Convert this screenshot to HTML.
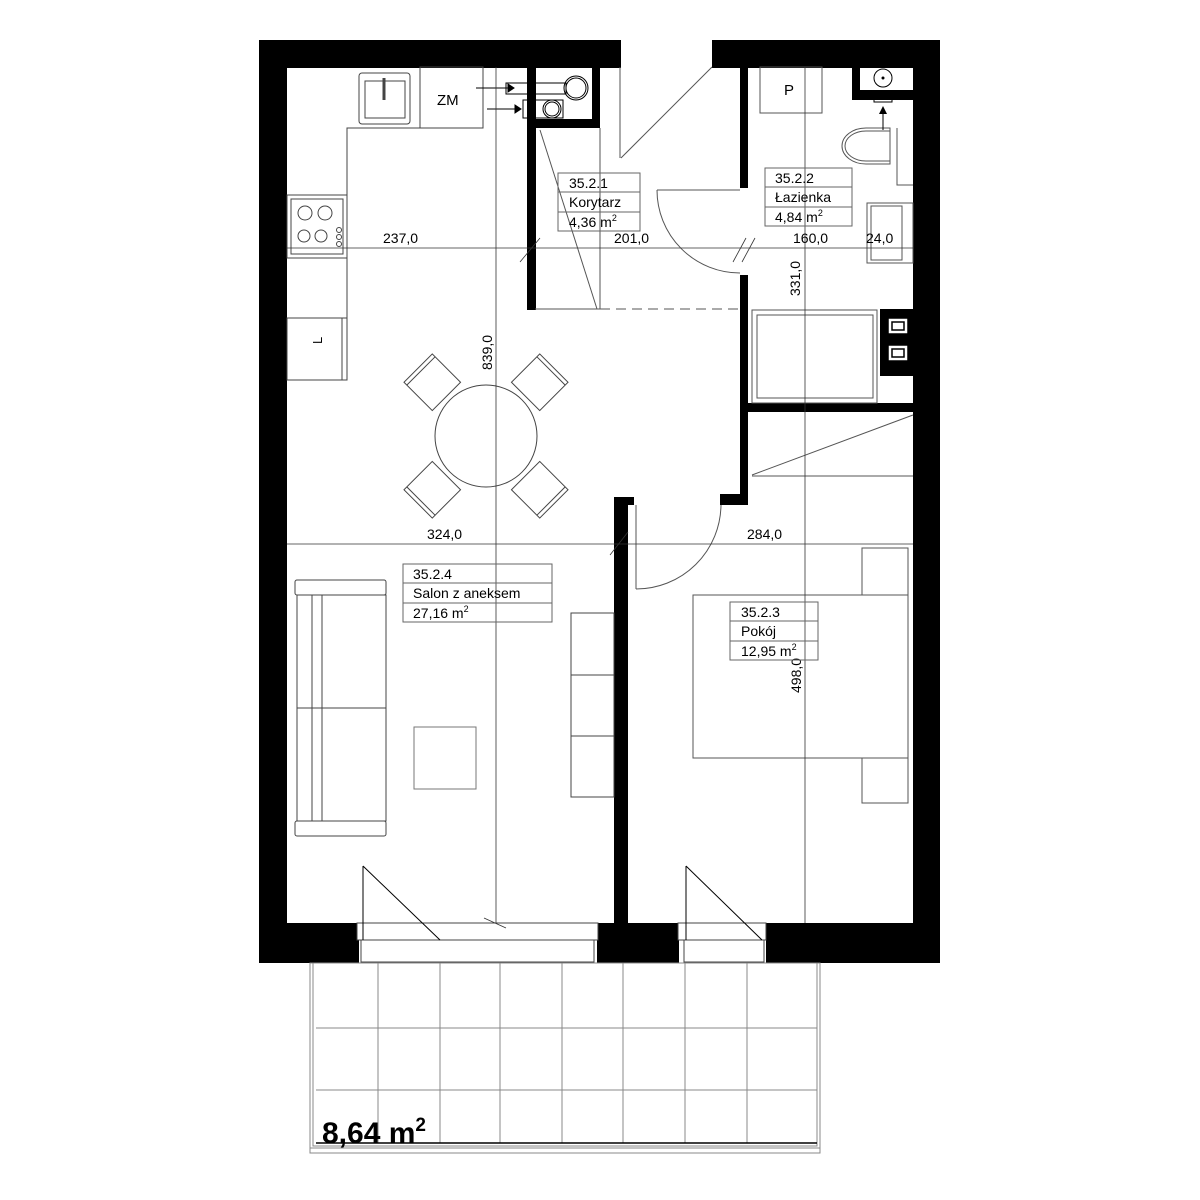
<!DOCTYPE html>
<html><head><meta charset="utf-8"><style>
html,body{margin:0;padding:0;background:#fff;}
svg{display:block;}
text{font-family:"Liberation Sans",Arial,sans-serif;fill:#000;}
</style></head><body>
<svg width="1200" height="1200" viewBox="0 0 1200 1200" xmlns="http://www.w3.org/2000/svg">
<rect width="1200" height="1200" fill="#fff"/>
<g fill="#000">
<rect x="259" y="40" width="362" height="28"/>
<rect x="712" y="40" width="228" height="28"/>
<rect x="259" y="40" width="28" height="923"/>
<rect x="913" y="40" width="27" height="923"/>
<rect x="259" y="923" width="100" height="40"/>
<rect x="597" y="923" width="82" height="40"/>
<rect x="766" y="923" width="174" height="40"/>
<rect x="527" y="67" width="9" height="243"/>
<rect x="592" y="67" width="8" height="61"/>
<rect x="535" y="119" width="65" height="9"/>
<rect x="740" y="67" width="8" height="121"/>
<rect x="740" y="275" width="8" height="230"/>
<rect x="720" y="494" width="28" height="11"/>
<rect x="748" y="403" width="165" height="9"/>
<rect x="852" y="67" width="8" height="33"/>
<rect x="852" y="90" width="61" height="10"/>
<rect x="614" y="497" width="14" height="426"/>
<rect x="614" y="497" width="20" height="8"/>
<rect x="880" y="309" width="33" height="67"/>
<rect x="440" y="937" width="12" height="6"/>
</g>
<g fill="#fff" stroke="#000" stroke-width="1.5">
<rect x="888" y="318" width="20" height="16"/><rect x="892" y="322" width="12" height="8" fill="none"/>
<rect x="888" y="345" width="20" height="16"/><rect x="892" y="349" width="12" height="8" fill="none"/>
</g>
<g fill="#fff" stroke="#444" stroke-width="1">
<rect x="357" y="923" width="241" height="17"/>
<rect x="361" y="940" width="233" height="22"/>
<rect x="678" y="923" width="88" height="17"/>
<rect x="684" y="940" width="80" height="22"/>
</g>
<g fill="none" stroke="#000" stroke-width="1">
<polyline points="363,866 363,940"/><line x1="363" y1="866" x2="440" y2="940"/>
<polyline points="686,866 686,940"/><line x1="686" y1="866" x2="762" y2="940"/>
</g>
<g fill="none" stroke="#888" stroke-width="1">
<rect x="310" y="963" width="510" height="190"/>
<rect x="313" y="963" width="504" height="183"/>
<line x1="310" y1="1148" x2="820" y2="1148"/>
<line x1="378" y1="963" x2="378" y2="1143"/><line x1="440" y1="963" x2="440" y2="1143"/>
<line x1="500" y1="963" x2="500" y2="1143"/><line x1="562" y1="963" x2="562" y2="1143"/>
<line x1="623" y1="963" x2="623" y2="1143"/><line x1="685" y1="963" x2="685" y2="1143"/>
<line x1="747" y1="963" x2="747" y2="1143"/>
<line x1="316" y1="1028" x2="817" y2="1028"/><line x1="316" y1="1090" x2="817" y2="1090"/>
</g>
<line x1="316" y1="1143" x2="817" y2="1143" stroke="#000" stroke-width="1.5"/>
<text x="322" y="1143" font-size="30" font-weight="bold">8,64 m<tspan font-size="19" dy="-12">2</tspan></text>
<g fill="none" stroke="#444" stroke-width="1">
<rect x="359" y="73" width="51" height="51" rx="3"/>
<rect x="365" y="81" width="40" height="37"/>
<line x1="384" y1="78" x2="384" y2="100" stroke-width="3"/>
<rect x="420" y="67" width="63" height="61"/>
<polyline points="347,380 347,128 480,128"/>
<rect x="287" y="195" width="60" height="63"/>
<rect x="291" y="199" width="52" height="55"/>
<circle cx="305" cy="213" r="7"/><circle cx="325" cy="213" r="7"/>
<circle cx="304" cy="236" r="6"/><circle cx="321" cy="236" r="6"/>
<circle cx="339" cy="230" r="2.5"/><circle cx="339" cy="237" r="2.5"/><circle cx="339" cy="244" r="2.5"/>
<rect x="287" y="318" width="60" height="62"/>
<line x1="342" y1="318" x2="342" y2="380"/>
</g>
<text x="437" y="105" font-size="15">ZM</text>
<text x="784" y="95" font-size="15">P</text>
<text x="322" y="352" font-size="13" transform="rotate(-90 318 348)">L</text>
<g fill="none" stroke="#000" stroke-width="1">
<line x1="476" y1="88" x2="508" y2="88"/><polygon points="508,84 514,88 508,92" fill="#000"/>
<line x1="487" y1="109" x2="515" y2="109"/><polygon points="515,105 521,109 515,113" fill="#000"/>
<rect x="506" y="83" width="60" height="11"/>
<circle cx="576" cy="88" r="12"/><circle cx="576" cy="88" r="10"/>
<rect x="523" y="100" width="40" height="18"/>
<circle cx="552" cy="109" r="9"/><circle cx="552" cy="109" r="7"/>
</g>
<g fill="none" stroke="#555" stroke-width="1">
<line x1="540" y1="130" x2="597" y2="309"/>
<line x1="600" y1="128" x2="600" y2="309"/>
<line x1="535" y1="309" x2="600" y2="309"/>
<line x1="600" y1="309" x2="740" y2="309" stroke-dasharray="10,6"/>
<line x1="712" y1="67" x2="621" y2="158"/>
<line x1="620" y1="67" x2="620" y2="158"/>
<path d="M657,190 A83,83 0 0 0 740,273"/>
<line x1="657" y1="190" x2="740" y2="190"/>
</g>
<g fill="none" stroke="#555" stroke-width="1">
<rect x="760" y="67" width="62" height="46"/>
<path d="M890,128 L866,128 A24,18 0 0 0 866,164 L890,164 Z"/>
<path d="M890,131 L866,131 A21,15 0 0 0 866,161 L890,161"/>
<polyline points="897,128 897,185 913,185"/>
<rect x="867" y="203" width="46" height="60"/>
<rect x="871" y="206" width="31" height="54"/>
<rect x="752" y="310" width="125" height="93"/>
<rect x="757" y="315" width="116" height="83"/>
<circle cx="883" cy="78" r="9" stroke="#000"/>
<rect x="874" y="97" width="18" height="5" stroke="#000"/>
</g>
<circle cx="883" cy="78" r="1.5" fill="#000"/>
<line x1="883" y1="130" x2="883" y2="112" stroke="#000"/><polygon points="879,114 883,106 887,114" fill="#000"/>
<g fill="none" stroke="#555" stroke-width="1">
<line x1="752" y1="475" x2="913" y2="415"/>
<line x1="752" y1="476" x2="913" y2="476"/>
<path d="M721,505 A85,85 0 0 1 636,589"/>
<line x1="636" y1="505" x2="636" y2="589"/>
<rect x="693" y="595" width="215" height="163"/>
<rect x="862" y="548" width="46" height="47"/>
<rect x="862" y="758" width="46" height="45"/>
</g>
<g fill="none" stroke="#444" stroke-width="1">
<rect x="295" y="580" width="91" height="15" rx="2"/>
<rect x="295" y="821" width="91" height="15" rx="2"/>
<rect x="297" y="595" width="89" height="226"/>
<line x1="312" y1="595" x2="312" y2="821"/><line x1="322" y1="595" x2="322" y2="821"/>
<line x1="297" y1="708" x2="386" y2="708"/>
<rect x="414" y="727" width="62" height="62" stroke="#777"/>
<rect x="571" y="613" width="43" height="184"/>
<line x1="571" y1="675" x2="614" y2="675"/><line x1="571" y1="736" x2="614" y2="736"/>
<circle cx="486" cy="436" r="51"/>
<g transform="translate(486 436)">
<g transform="rotate(-45)"><rect x="-20" y="-96" width="40" height="40"/><line x1="-20" y1="-92" x2="20" y2="-92"/></g>
<g transform="rotate(45)"><rect x="-20" y="-96" width="40" height="40"/><line x1="-20" y1="-92" x2="20" y2="-92"/></g>
<g transform="rotate(135)"><rect x="-20" y="-96" width="40" height="40"/><line x1="-20" y1="-92" x2="20" y2="-92"/></g>
<g transform="rotate(225)"><rect x="-20" y="-96" width="40" height="40"/><line x1="-20" y1="-92" x2="20" y2="-92"/></g>
</g>
</g>
<g stroke="#333" stroke-width="0.8" fill="none">
<line x1="287" y1="248" x2="913" y2="248"/>
<line x1="287" y1="544" x2="913" y2="544"/>
<line x1="496" y1="67" x2="496" y2="923"/>
<line x1="805" y1="67" x2="805" y2="923"/>
<line x1="520" y1="262" x2="540" y2="238"/><line x1="733" y1="262" x2="746" y2="238"/><line x1="742" y1="262" x2="755" y2="238"/>
<line x1="610" y1="555" x2="628" y2="532"/><line x1="484" y1="918" x2="506" y2="928"/>
</g>
<g font-size="14">
<text x="383" y="243">237,0</text>
<text x="614" y="243">201,0</text>
<text x="793" y="243">160,0</text>
<text x="866" y="243">24,0</text>
<text x="427" y="539">324,0</text>
<text x="747" y="539">284,0</text>
<text transform="translate(492 370) rotate(-90)">839,0</text>
<text transform="translate(800 296) rotate(-90)">331,0</text>
<text transform="translate(801 693) rotate(-90)">498,0</text>
</g>
<g fill="none" stroke="#666" stroke-width="1">
<rect x="558" y="173" width="82" height="58"/><line x1="558" y1="192" x2="640" y2="192"/><line x1="558" y1="212" x2="640" y2="212"/>
<rect x="765" y="168" width="87" height="58"/><line x1="765" y1="187" x2="852" y2="187"/><line x1="765" y1="207" x2="852" y2="207"/>
<rect x="403" y="564" width="149" height="58"/><line x1="403" y1="583" x2="552" y2="583"/><line x1="403" y1="603" x2="552" y2="603"/>
<rect x="730" y="602" width="88" height="58"/><line x1="730" y1="621" x2="818" y2="621"/><line x1="730" y1="641" x2="818" y2="641"/>
</g>
<g font-size="14">
<text x="569" y="188">35.2.1</text><text x="569" y="207">Korytarz</text><text x="569" y="227">4,36 m<tspan font-size="9" dy="-6">2</tspan></text>
<text x="775" y="183">35.2.2</text><text x="775" y="202">Łazienka</text><text x="775" y="222">4,84 m<tspan font-size="9" dy="-6">2</tspan></text>
<text x="413" y="579">35.2.4</text><text x="413" y="598">Salon z aneksem</text><text x="413" y="618">27,16 m<tspan font-size="9" dy="-6">2</tspan></text>
<text x="741" y="617">35.2.3</text><text x="741" y="636">Pokój</text><text x="741" y="656">12,95 m<tspan font-size="9" dy="-6">2</tspan></text>
</g>
</svg>
</body></html>
